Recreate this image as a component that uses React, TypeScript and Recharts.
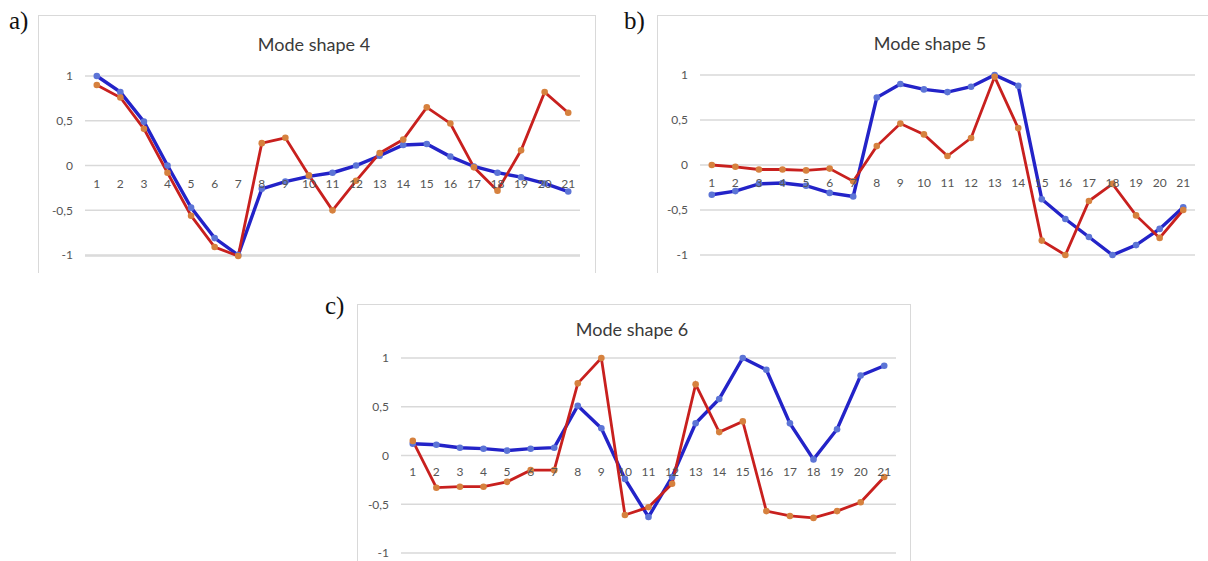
import React from 'react';
import { LineChart, Line, XAxis, YAxis, CartesianGrid } from 'recharts';

const categories = ['1', '2', '3', '4', '5', '6', '7', '8', '9', '10', '11', '12', '13', '14', '15', '16', '17', '18', '19', '20', '21'];
const yTicks = [-1, -0.5, 0, 0.5, 1];

const mode4Blue = [1.0, 0.82, 0.49, 0.0, -0.47, -0.81, -1.0, -0.26, -0.18, -0.12, -0.08, 0.0, 0.11, 0.23, 0.24, 0.1, -0.01, -0.08, -0.13, -0.2, -0.29];
const mode4Red = [0.9, 0.76, 0.41, -0.08, -0.56, -0.91, -1.01, 0.25, 0.31, -0.11, -0.5, -0.17, 0.14, 0.29, 0.65, 0.47, -0.02, -0.28, 0.17, 0.82, 0.59];

const mode5Blue = [-0.33, -0.29, -0.21, -0.2, -0.23, -0.31, -0.35, 0.75, 0.9, 0.84, 0.81, 0.87, 1.0, 0.88, -0.38, -0.6, -0.8, -1.0, -0.89, -0.71, -0.47];
const mode5Red = [0.0, -0.02, -0.05, -0.05, -0.06, -0.04, -0.18, 0.21, 0.46, 0.34, 0.1, 0.3, 0.98, 0.41, -0.84, -1.0, -0.4, -0.21, -0.56, -0.81, -0.5];

const mode6Blue = [0.12, 0.11, 0.08, 0.07, 0.05, 0.07, 0.08, 0.51, 0.28, -0.24, -0.63, -0.22, 0.33, 0.58, 1.0, 0.88, 0.33, -0.04, 0.27, 0.82, 0.92];
const mode6Red = [0.15, -0.33, -0.32, -0.32, -0.27, -0.15, -0.15, 0.74, 1.0, -0.61, -0.53, -0.29, 0.73, 0.24, 0.35, -0.57, -0.62, -0.64, -0.57, -0.48, -0.22];

const FONT = 'Lato, "Open Sans", sans-serif';
const TICK_COLOR = '#555555';
const Y_AXIS_W = 40;
const X_AXIS_H = 10;

type Box = { left: number; top: number; right: number; bottom: number };

type PanelProps = {
  frame: Box;
  plot: Box;
  title: string;
  titleX: number;
  titleY: number;
  label: string;
  labelX: number;
  labelY: number;
  blue: number[];
  red: number[];
  labelBelowZero: number;
};

function Panel(p: PanelProps) {
  const data = categories.map((c, i) => ({ x: c, blue: p.blue[i], red: p.red[i] }));
  const width = p.frame.right - p.frame.left;
  const height = p.frame.bottom - p.frame.top;
  const margin = {
    top: p.plot.top - p.frame.top,
    left: p.plot.left - p.frame.left - Y_AXIS_W,
    right: p.frame.right - p.plot.right,
    bottom: p.frame.bottom - p.plot.bottom - X_AXIS_H,
  };
  const plotH = p.plot.bottom - p.plot.top;
  const shift = plotH / 2 - p.labelBelowZero;
  const pad = (p.plot.right - p.plot.left) / (categories.length * 2);

  const XTick = (props: any) => (
    <text
      x={props.x}
      y={props.y - shift}
      textAnchor="middle"
      fill={TICK_COLOR}
      fontSize={12}
      fontFamily={FONT}
    >
      {props.payload.value}
    </text>
  );

  return (
    <>
      <div
        style={{
          position: 'absolute',
          left: p.frame.left,
          top: p.frame.top,
          width: width,
          height: height,
          boxSizing: 'border-box',
          borderTop: '1px solid #D9D9D9',
          borderLeft: '1px solid #D9D9D9',
          borderRight: '1px solid #D9D9D9',
        }}
      />
      <div
        style={{
          position: 'absolute',
          left: p.labelX,
          top: p.labelY,
          fontFamily: '"Liberation Serif", "DejaVu Serif", serif',
          fontSize: 25,
          lineHeight: '25px',
          color: '#111',
        }}
      >
        {p.label}
      </div>
      <div
        style={{
          position: 'absolute',
          left: p.titleX - 100,
          width: 200,
          top: p.titleY - 10,
          height: 20,
          lineHeight: '20px',
          textAlign: 'center',
          fontFamily: FONT,
          fontSize: 18,
          color: '#3A3A3A',
        }}
      >
        {p.title}
      </div>
      <div style={{ position: 'absolute', left: p.frame.left, top: p.frame.top }}>
        <LineChart width={width} height={height} data={data} margin={margin}>
          <CartesianGrid vertical={false} stroke="#D9D9D9" strokeWidth={1.5} />
          <XAxis
            dataKey="x"
            type="category"
            axisLine={false}
            tickLine={false}
            tickSize={0}
            tickMargin={0}
            height={X_AXIS_H}
            interval={0}
            padding={{ left: pad, right: pad }}
            tick={XTick}
          />
          <YAxis
            type="number"
            domain={[-1, 1]}
            ticks={yTicks}
            width={Y_AXIS_W}
            axisLine={false}
            tickLine={false}
            tickSize={0}
            tickMargin={12}
            tick={{ fill: TICK_COLOR, fontSize: 12, fontFamily: FONT }}
            tickFormatter={(v: number) => String(v).replace('.', ',')}
          />
          <Line
            type="linear"
            dataKey="blue"
            stroke="#2323C8"
            strokeWidth={3.4}
            dot={{ r: 3.3, fill: '#5C74D6', stroke: 'none' }}
            isAnimationActive={false}
          />
          <Line
            type="linear"
            dataKey="red"
            stroke="#C8201E"
            strokeWidth={2.8}
            dot={{ r: 3.3, fill: '#D6813E', stroke: 'none' }}
            isAnimationActive={false}
          />
        </LineChart>
      </div>
    </>
  );
}

export default function App() {
  return (
    <div
      style={{
        position: 'absolute',
        left: 0,
        top: 0,
        width: 1208,
        height: 561,
        overflow: 'hidden',
        background: '#fff',
      }}
    >
      <Panel
        frame={{ left: 38, top: 15, right: 596, bottom: 273 }}
        plot={{ left: 85, top: 76, right: 580, bottom: 256 }}
        title="Mode shape 4"
        titleX={314}
        titleY={44}
        label="a)"
        labelX={9}
        labelY={8}
        blue={mode4Blue}
        red={mode4Red}
        labelBelowZero={22}
      />
      <Panel
        frame={{ left: 657, top: 15, right: 1214, bottom: 273 }}
        plot={{ left: 700, top: 75, right: 1195, bottom: 255 }}
        title="Mode shape 5"
        titleX={930}
        titleY={43}
        label="b)"
        labelX={624}
        labelY={8}
        blue={mode5Blue}
        red={mode5Red}
        labelBelowZero={22}
      />
      <Panel
        frame={{ left: 357, top: 304, right: 911, bottom: 570 }}
        plot={{ left: 401, top: 358, right: 896, bottom: 553 }}
        title="Mode shape 6"
        titleX={632}
        titleY={329}
        label="c)"
        labelX={325}
        labelY={293}
        blue={mode6Blue}
        red={mode6Red}
        labelBelowZero={20}
      />
    </div>
  );
}
